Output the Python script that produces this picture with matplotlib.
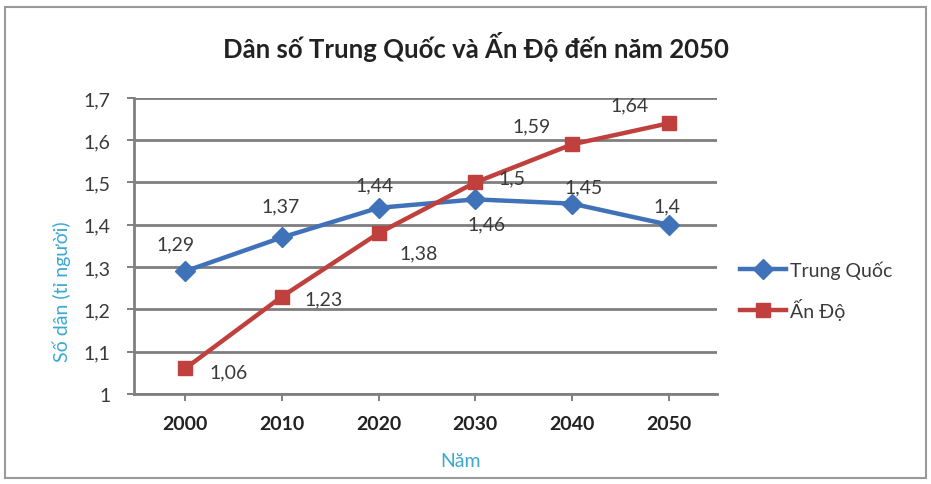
import matplotlib
matplotlib.use("Agg")
import matplotlib.pyplot as plt
from matplotlib.patches import Rectangle

plt.rcParams['font.family'] = ['Lato', 'DejaVu Sans']

# số liệu dân số (tỉ người)
years = ['2000', '2010', '2020', '2030', '2040', '2050']
trung_quoc = [1.29, 1.37, 1.44, 1.46, 1.45, 1.40]
an_do = [1.06, 1.23, 1.38, 1.50, 1.59, 1.64]
y_ticks = [1.0, 1.1, 1.2, 1.3, 1.4, 1.5, 1.6, 1.7]

# vị trí nhãn số liệu (pixel lệch so với điểm)
tq_offsets = [(-10, 27), (-1, 32), (-4, 23), (11, -25), (12, 17), (-2, 19)]
ad_offsets = [(43, -3), (42, -2), (40, -20), (37, 5), (-40, 19), (-39, 18)]

blue = '#3f72b8'
red = '#c0403d'
cyan = '#3aa8d2'
grid_c = '#7f7f7f'
text_c = '#3a3a3a'

fig = plt.figure(figsize=(9.31, 4.85), dpi=100)
fig.patches.append(Rectangle((0.005, 0.012), 0.99, 0.972, transform=fig.transFigure,
                             fill=False, edgecolor='#9a9a9a', linewidth=1.5))

ax = fig.add_axes([0.144, 0.186, 0.626, 0.610])
x = list(range(len(years)))

ax.plot(x, trung_quoc, color=blue, lw=3.2, marker='D', ms=10, label='Trung Quốc', zorder=3)
ax.plot(x, an_do, color=red, lw=3.2, marker='s', ms=9.5, label='Ấn Độ', zorder=3)

def fmt(v):
    return ('%g' % v).replace('.', ',')

for i, v in enumerate(trung_quoc):
    ax.annotate(fmt(v), (i, v), xytext=tq_offsets[i], textcoords='offset pixels',
                ha='center', va='center', fontsize=14, color=text_c)
for i, v in enumerate(an_do):
    ax.annotate(fmt(v), (i, v), xytext=ad_offsets[i], textcoords='offset pixels',
                ha='center', va='center', fontsize=14, color=text_c)

ax.set_xlim(-0.53, 5.5)
ax.set_ylim(1.0, 1.7)
ax.set_xticks(x)
ax.set_xticklabels(years, fontsize=14, fontweight='bold', color='#222222')
ax.set_yticks(y_ticks)
ax.set_yticklabels([fmt(t) for t in y_ticks], fontsize=14, color=text_c)
ax.yaxis.grid(True, color=grid_c, lw=2)
ax.set_axisbelow(True)
for s in ['top', 'right']:
    ax.spines[s].set_visible(False)
for s in ['left', 'bottom']:
    ax.spines[s].set_color(grid_c)
    ax.spines[s].set_linewidth(2)
ax.tick_params(axis='y', length=5, width=1.4, color=grid_c, pad=12)
ax.tick_params(axis='x', length=5, width=1.4, color=grid_c, pad=10)

fig.text(0.511, 0.903, 'Dân số Trung Quốc và Ấn Độ đến năm 2050', ha='center', va='center',
         fontsize=18.5, fontweight='bold', color='#222222')
fig.text(62 / 931, 1 - 292 / 485, 'Số dân (tỉ người)', rotation=90, ha='center', va='center',
         fontsize=14, color=cyan)
fig.text(461 / 931, 1 - 462 / 485, 'Năm', ha='center', va='center', fontsize=14, color=cyan)

fig.legend(loc='center left', bbox_to_anchor=(722 / 931, 1 - 291 / 485), frameon=False,
           fontsize=14, labelspacing=1.0, handlelength=2.4, handletextpad=0.2,
           labelcolor=text_c)

fig.savefig('out.png', dpi=100)
